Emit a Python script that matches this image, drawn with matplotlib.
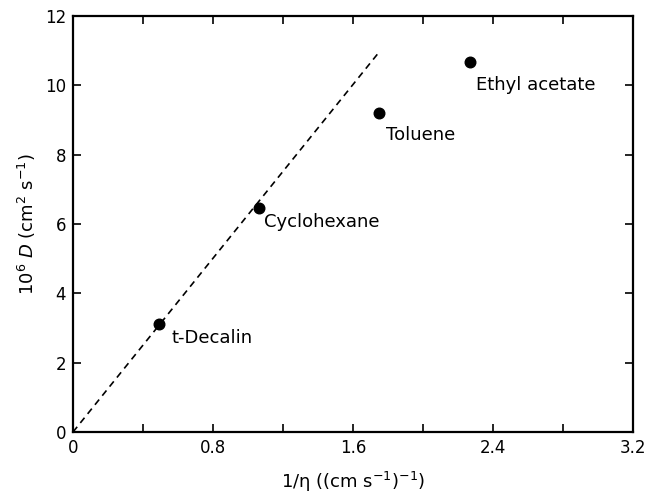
import matplotlib
matplotlib.use('Agg')
import matplotlib.pyplot as plt

# solvent data: 1/eta vs 10^6 D
solvents = ['t-Decalin', 'Cyclohexane', 'Toluene', 'Ethyl acetate']
inv_eta = [0.49, 1.06, 1.75, 2.27]
diff_coef = [3.12, 6.46, 9.2, 10.68]

# Stokes-Einstein reference line
line_x = [0.0, 1.74]
line_y = [0.0, 10.9]

# label offsets in points (dx, dy)
label_offsets = [(9, -10), (4, -10), (5, -16), (4, -17)]

plt.rcParams['font.family'] = ['DejaVu Sans']

fig = plt.figure(figsize=(6.5, 4.96), dpi=100)
ax = fig.add_axes([0.1123, 0.129, 0.8617, 0.839])

ax.plot(line_x, line_y, color='black', linestyle=(0, (4, 3)), linewidth=1.2)
ax.scatter(inv_eta, diff_coef, color='black', s=58, zorder=3)

for name, x, y, off in zip(solvents, inv_eta, diff_coef, label_offsets):
    ax.annotate(name, (x, y), xytext=off, textcoords='offset points',
                fontsize=13, va='center', ha='left')

ax.set_xlim(0, 3.2)
ax.set_ylim(0, 12)
ax.set_xticks([0, 0.4, 0.8, 1.2, 1.6, 2.0, 2.4, 2.8, 3.2])
ax.set_xticklabels(['0', '', '0.8', '', '1.6', '', '2.4', '', '3.2'])
ax.set_yticks([0, 2, 4, 6, 8, 10, 12])
ax.tick_params(direction='in', top=True, right=True, length=5.5, width=1.2,
               labelsize=12, pad=5)
for s in ax.spines.values():
    s.set_linewidth(1.6)

ax.set_xlabel('1/η ((cm s$^{-1}$)$^{-1}$)', fontsize=13, labelpad=9)
ax.set_ylabel(r'10$^6$ $D$ (cm$^2$ s$^{-1}$)', fontsize=13, labelpad=5)

fig.savefig('out.png', dpi=100)
